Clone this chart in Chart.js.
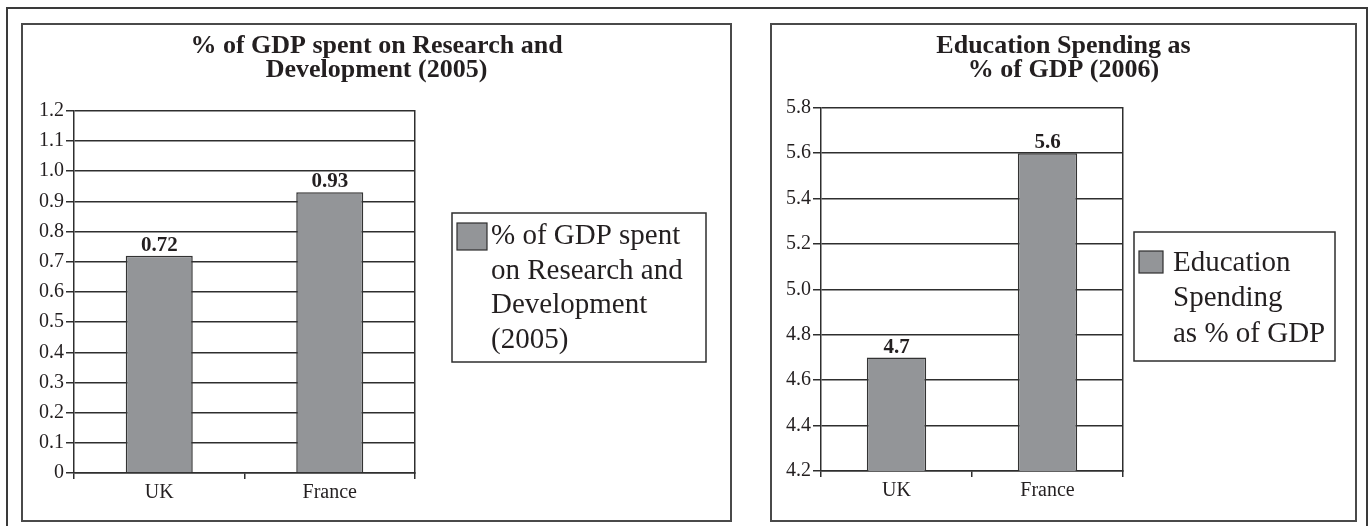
<!DOCTYPE html>
<html lang="en">
<head>
<meta charset="UTF-8"/>
<title>R&amp;D and Education spending, UK vs France</title>
<script src="https://cdn.jsdelivr.net/npm/chart.js@4.4.1/dist/chart.umd.min.js"></script>
<style>
  body { margin: 0; background: #fff; width: 1370px; height: 526px; overflow: hidden; position: relative; }
  .frame { position: absolute; left: 6px; top: 7px; width: 1362px; height: 540px; border: 2px solid #3a3a3a; box-sizing: border-box; }
  .panel { position: absolute; top: 23px; height: 499px; border: 2px solid #4a4a4a; box-sizing: border-box; }
  .panel canvas { position: absolute; left: 0; top: 0; }
</style>
</head>
<body>
<div class="frame"></div>
<div class="panel" style="left:21px;width:711px"><canvas id="rdChart" width="707" height="495"></canvas></div>
<div class="panel" style="left:770px;width:587px"><canvas id="eduChart" width="583" height="495"></canvas></div>
<script>
// data
const categories = ['UK', 'France'];
const rdValues = [0.72, 0.93];
const eduValues = [4.7, 5.6];
const rdTitle = ['% of GDP spent on Research and', 'Development (2005)'];
const eduTitle = ['Education Spending as', '% of GDP (2006)'];
const rdLegend = ['% of GDP spent', 'on Research and', 'Development', '(2005)'];
const eduLegend = ['Education', 'Spending', 'as % of GDP'];

const INK = '#231f20';
const LINE = '#2e2e2e';
const BAR = '#939598';
const SERIF = "'Liberation Serif', 'Times New Roman', serif";

function makeChart(id, values, opts) {
  // value labels above bars
  const barLabels = {
    id: 'barLabels',
    afterDatasetsDraw(chart) {
      const ctx = chart.ctx;
      const meta = chart.getDatasetMeta(0);
      ctx.save();
      ctx.font = 'bold 21px ' + SERIF;
      ctx.fillStyle = INK;
      ctx.textAlign = 'center';
      ctx.textBaseline = 'alphabetic';
      meta.data.forEach((bar, i) => {
        ctx.fillText(opts.label(values[i]), bar.x, bar.y - 5);
      });
      ctx.restore();
    }
  };

  // boxed legend to the right of the plot
  const boxLegend = {
    id: 'boxLegend',
    afterDraw(chart) {
      const o = opts.box;
      const ctx = chart.ctx;
      const bx = chart.chartArea.right + o.dx;
      ctx.save();
      ctx.lineWidth = 1.5;
      ctx.strokeStyle = LINE;
      ctx.strokeRect(bx, o.y, o.w, o.h);
      ctx.fillStyle = BAR;
      ctx.fillRect(bx + o.sw[0], o.sw[1], o.sw[2], o.sw[3]);
      ctx.lineWidth = 1.2;
      ctx.strokeRect(bx + o.sw[0], o.sw[1], o.sw[2], o.sw[3]);
      ctx.fillStyle = INK;
      ctx.font = '29px ' + SERIF;
      ctx.textAlign = 'left';
      ctx.textBaseline = 'alphabetic';
      opts.legend.forEach((t, i) => ctx.fillText(t, bx + o.tx, o.ty + i * o.lh));
      ctx.restore();
    }
  };

  return new Chart(document.getElementById(id), {
    type: 'bar',
    data: {
      labels: categories,
      datasets: [{
        label: opts.legend.join(' '),
        data: values,
        backgroundColor: BAR,
        borderColor: '#333333',
        borderWidth: 1.5,
        barPercentage: 0.393,
        categoryPercentage: 1
      }]
    },
    options: {
      responsive: false,
      animation: false,
      events: [],
      layout: { padding: 0 },
      scales: {
        x: {
          grid: { drawOnChartArea: false, drawTicks: true, tickLength: 6, color: LINE, lineWidth: 1.5 },
          border: { display: true, color: LINE, width: 1.5 },
          ticks: { font: { family: SERIF, size: 20 }, color: INK, padding: 2 },
          afterFit(s) { s.height = opts.xh; }
        },
        y: {
          min: opts.min, max: opts.max,
          ticks: { stepSize: opts.step, font: { family: SERIF, size: 20 }, color: INK, padding: 2,
                   callback: v => opts.tick(v) },
          grid: { color: LINE, lineWidth: 1.5, tickLength: 8 },
          border: { display: true, color: LINE, width: 1.5 },
          afterFit(s) { s.width = opts.yw; }
        },
        y2: {
          position: 'right', display: true, min: opts.min, max: opts.max,
          ticks: { display: false },
          grid: { drawOnChartArea: false, drawTicks: false },
          border: { display: true, color: LINE, width: 1.5 },
          afterFit(s) { s.width = opts.rw; }
        }
      },
      plugins: {
        legend: { display: false },
        tooltip: { enabled: false },
        title: {
          display: true,
          text: opts.title,
          color: INK,
          font: { family: SERIF, size: 26, weight: 'bold', lineHeight: 0.92 },
          padding: { top: 9, bottom: opts.tpb }
        }
      }
    },
    plugins: [barLabels, boxLegend]
  });
}

makeChart('rdChart', rdValues, {
  title: rdTitle, legend: rdLegend,
  min: 0, max: 1.2, step: 0.1,
  tick: v => (Math.abs(v) < 1e-9 ? '0' : Number(v).toFixed(1)),
  label: v => v.toFixed(2),
  yw: 51, rw: 315, xh: 47, tpb: 29,
  box: { dx: 37, y: 188, w: 254, h: 149, sw: [5, 198, 30, 27], tx: 39, ty: 219, lh: 34.7 }
});

makeChart('eduChart', eduValues, {
  title: eduTitle, legend: eduLegend,
  min: 4.2, max: 5.8, step: 0.2,
  tick: v => Number(v).toFixed(1),
  label: v => v.toFixed(1),
  yw: 49, rw: 232, xh: 49, tpb: 26,
  box: { dx: 11, y: 207, w: 201, h: 129, sw: [5, 226, 24, 22], tx: 39, ty: 246, lh: 35.3 }
});
</script>
</body>
</html>
